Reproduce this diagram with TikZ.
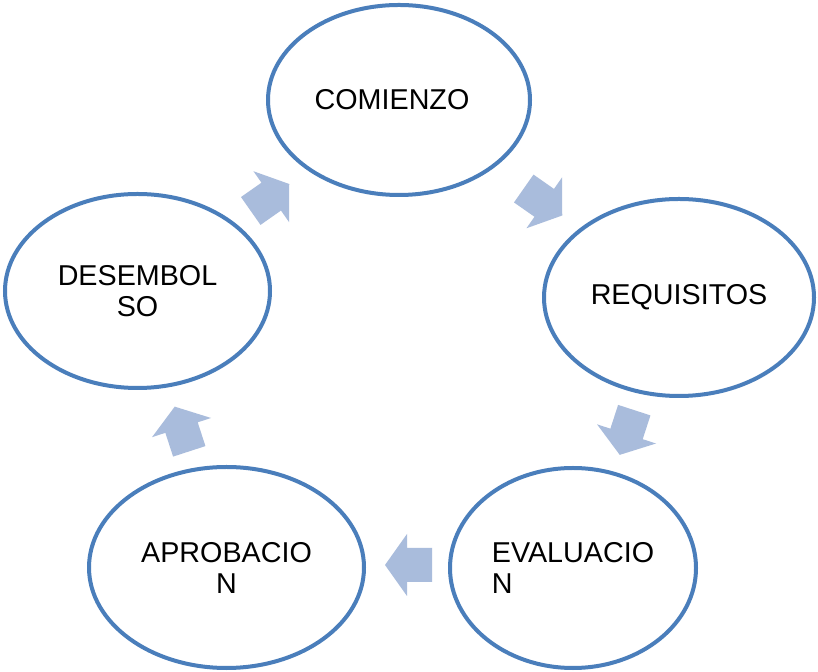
\documentclass[tikz,border=0pt]{standalone}
\usepackage{fontspec}
\setmainfont{Liberation Sans}
\usetikzlibrary{shapes.geometric}
\definecolor{ringblue}{HTML}{4A7EBB}
\definecolor{arrowblue}{HTML}{A9BCDC}
\tikzset{
  stage/.style={ellipse, draw=ringblue, line width=4pt, fill=white, inner sep=0pt,
    font=\fontsize{28.7}{31}\selectfont, text=black},
  cyclearrow/.pic={
    \fill[arrowblue] (-23.5,-17) -- (1.5,-17) -- (1.5,-31) -- (23.5,0) -- (1.5,31) -- (1.5,17) -- (-23.5,17) -- cycle;
  }
}
\begin{document}
\begin{tikzpicture}[x=1pt,y=1pt]
\useasboundingbox (0,0) rectangle (818,671);
\fill[white] (0,0) rectangle (818,671);
% stages
\node[stage, minimum width=262pt, minimum height=190pt] (comienzo) at (399,571) {COMIENZO\hspace*{14pt}};
\node[stage, minimum width=270pt, minimum height=197pt] (requisitos) at (679,373.5) {REQUISITOS};
\node[stage, minimum width=246pt, minimum height=200pt, align=left] (evaluacion) at (573,103) {EVALUACIO\\N};
\node[stage, minimum width=275pt, minimum height=201pt, align=center] (aprobacion) at (226.5,103.5) {APROBACIO\\N};
\node[stage, minimum width=265pt, minimum height=194pt, align=center] (desembolso) at (137.5,380) {DESEMBOL\\SO};
% cycle arrows
\pic[rotate=35] at (270,473.5) {cyclearrow};
\pic[rotate=-35] at (543,469) {cyclearrow};
\pic[rotate=-108] at (627,238.5) {cyclearrow};
\pic[rotate=180] at (408.5,106) {cyclearrow};
\pic[rotate=108] at (182,242) {cyclearrow};
\end{tikzpicture}
\end{document}
